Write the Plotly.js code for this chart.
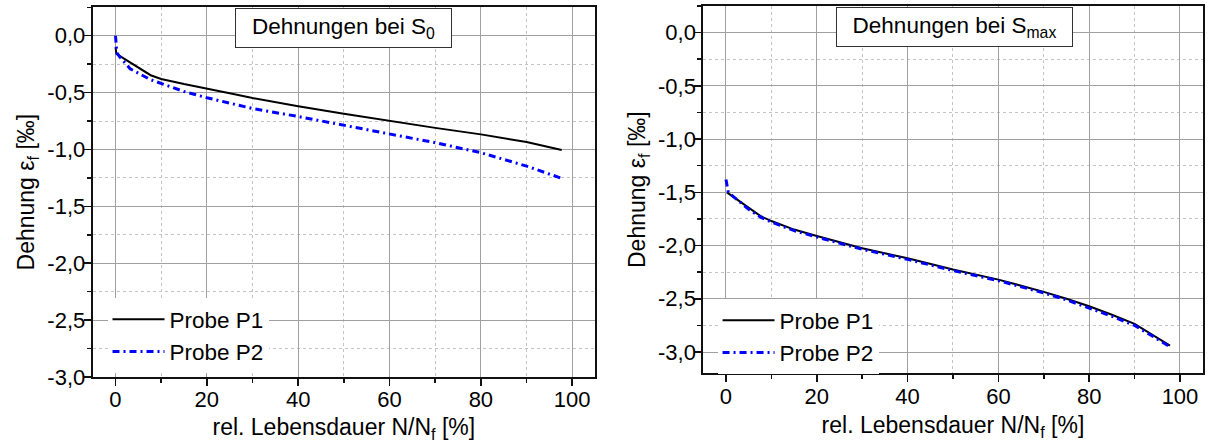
<!DOCTYPE html>
<html>
<head>
<meta charset="utf-8">
<script src="https://cdn.plot.ly/plotly-3.0.1.min.js"></script>
<style>html,body{margin:0;padding:0;background:#fff;}#chart{width:1208px;height:443px;}</style>
</head>
<body>
<div id="chart"></div>
<script>
// ---- Data ----
// Left panel: Dehnungen bei S0
const s0_P1_x = [0, 0.2, 7.7, 10, 15, 20, 25, 30, 40, 50, 60, 70, 80, 90, 97.7];
const s0_P1_y = [-0.10, -0.16, -0.347, -0.38, -0.425, -0.462, -0.505, -0.548, -0.62, -0.685, -0.75, -0.81, -0.867, -0.935, -1.005];
const s0_P2_x = [0, 0.3, 1, 3.2, 7.6, 10, 15, 20, 30, 40, 50, 60, 70, 80, 90, 98];
const s0_P2_y = [0, -0.15, -0.19, -0.29, -0.385, -0.42, -0.49, -0.545, -0.64, -0.71, -0.785, -0.862, -0.94, -1.028, -1.146, -1.258];
// Right panel: Dehnungen bei Smax
const smax_P1_x = [0.2, 7.7, 10, 15, 20, 30, 40, 50, 60, 70, 75, 80, 85, 90, 97.8];
const smax_P1_y = [-1.5, -1.725, -1.77, -1.85, -1.91, -2.025, -2.12, -2.225, -2.32, -2.435, -2.5, -2.57, -2.65, -2.735, -2.94];
const smax_P2_x = [0, 0.5, 5, 7.7, 10, 15, 20, 30, 40, 50, 60, 70, 75, 80, 85, 90, 97.8];
const smax_P2_y = [-1.38, -1.5, -1.66, -1.735, -1.78, -1.86, -1.92, -2.035, -2.13, -2.235, -2.33, -2.445, -2.51, -2.585, -2.665, -2.75, -2.95];

const seriesNames = ['Probe P1', 'Probe P2'];
const panelTitles = ['Dehnungen bei S<sub>0</sub>', 'Dehnungen bei S<sub>max</sub>'];
const xTitle = 'rel. Lebensdauer N/N<sub>f</sub> [%]';
const yTitle = 'Dehnung ε<sub>f</sub> [‰]';

// Tick labels
const xTickVals = [0, 20, 40, 60, 80, 100];
const xTickText = ['0', '20', '40', '60', '80', '100'];
const yTickVals = [0, -0.5, -1.0, -1.5, -2.0, -2.5, -3.0];
const yTickText = ['0,0', '-0,5', '-1,0', '-1,5', '-2,0', '-2,5', '-3,0'];

// ---- Styles ----
const FONT = 'Liberation Sans, Arial, sans-serif';
const p1Line = {color: '#000000', width: 2};
const p2Line = {color: '#0000ff', width: 3, dash: '7px,4px,2px,4px'};

const traces = [
  {x: s0_P1_x, y: s0_P1_y, xaxis: 'x', yaxis: 'y', mode: 'lines', name: seriesNames[0], line: p1Line, legend: 'legend'},
  {x: s0_P2_x, y: s0_P2_y, xaxis: 'x', yaxis: 'y', mode: 'lines', name: seriesNames[1], line: p2Line, legend: 'legend'},
  {x: smax_P1_x, y: smax_P1_y, xaxis: 'x2', yaxis: 'y2', mode: 'lines', name: seriesNames[0], line: p1Line, legend: 'legend2'},
  {x: smax_P2_x, y: smax_P2_y, xaxis: 'x2', yaxis: 'y2', mode: 'lines', name: seriesNames[1], line: p2Line, legend: 'legend2'}
];

const common = {
  showline: true, mirror: true, linecolor: '#111', linewidth: 2,
  ticks: 'outside', ticklen: 7, tickwidth: 1.5, tickcolor: '#111',
  showgrid: true, gridcolor: '#a0a0a0', gridwidth: 1, zeroline: false,
  tickfont: {family: FONT, size: 22, color: '#000'},
  automargin: false
};

function xAxis(domain, anchor) {
  return Object.assign({}, common, {
    domain: domain, anchor: anchor, range: [-5, 105],
    tickmode: 'array', tickvals: xTickVals, ticktext: xTickText,
    ticklabelstandoff: -5,
    minor: {tickmode: 'linear', tick0: 0, dtick: 10, ticks: 'outside', ticklen: 4, tickwidth: 1.5, tickcolor: '#111',
            showgrid: true, gridcolor: '#c4c4c4', gridwidth: 1, griddash: '3px,3px'},
    title: {text: xTitle, font: {family: FONT, size: 23, color: '#000'}, standoff: 9}
  });
}
function yAxis(domain, anchor, range) {
  return Object.assign({}, common, {
    domain: domain, anchor: anchor, range: range,
    tickmode: 'array', tickvals: yTickVals, ticktext: yTickText,
    ticklabelstandoff: -6,
    minor: {tickmode: 'linear', tick0: 0, dtick: 0.25, ticks: 'outside', ticklen: 4, tickwidth: 1.5, tickcolor: '#111',
            showgrid: true, gridcolor: '#c4c4c4', gridwidth: 1, griddash: '3px,3px'},
    title: {text: yTitle, font: {family: FONT, size: 23, color: '#000'}, standoff: 6}
  });
}

function legendBox(x, y) {
  return {x: x, y: y, xanchor: 'left', yanchor: 'top', bgcolor: '#ffffff', borderwidth: 0,
          font: {family: FONT, size: 22.5, color: '#000'}, itemwidth: 52, tracegroupgap: 0};
}

const layout = {
  width: 1208, height: 443,
  margin: {l: 0, r: 0, t: 0, b: 0},
  paper_bgcolor: '#ffffff', plot_bgcolor: '#ffffff',
  font: {family: FONT, color: '#000'},
  showlegend: true,
  xaxis: xAxis([0.0767, 0.4926], 'y'),
  yaxis: yAxis([0.149, 0.9835], 'x', [-3.0, 0.25]),
  xaxis2: xAxis([0.5822, 0.9956], 'y2'),
  yaxis2: yAxis([0.1573, 0.9865], 'x2', [-3.2, 0.25]),
  legend: legendBox(0.089, 0.327),
  legend2: legendBox(0.594, 0.325),
  annotations: [
    {xref: 'paper', yref: 'paper', x: 0.2844, y: 0.9357, xanchor: 'center', yanchor: 'middle',
     text: panelTitles[0], showarrow: false, font: {family: FONT, size: 22.5, color: '#000'},
     bgcolor: '#ffffff', bordercolor: '#333', borderwidth: 1, width: 213, height: 36},
    {xref: 'paper', yref: 'paper', x: 0.7901, y: 0.939, xanchor: 'center', yanchor: 'middle',
     text: panelTitles[1], showarrow: false, font: {family: FONT, size: 22.5, color: '#000'},
     bgcolor: '#ffffff', bordercolor: '#333', borderwidth: 1, width: 233, height: 36}
  ]
};

Plotly.newPlot('chart', traces, layout, {staticPlot: true, displayModeBar: false});
</script>
</body>
</html>
